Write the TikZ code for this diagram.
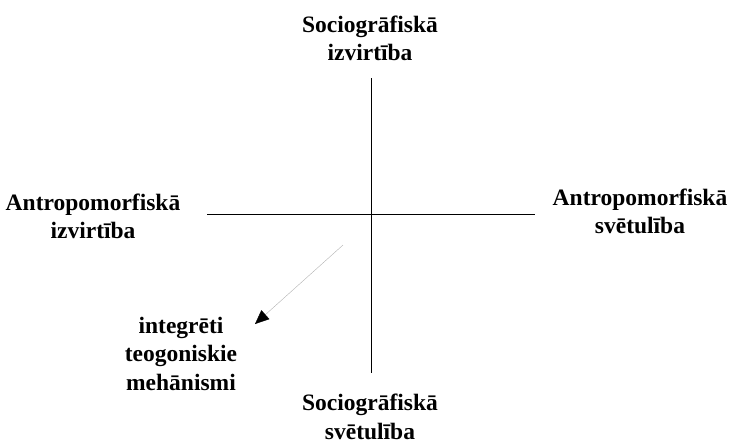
\documentclass[tikz,border=0pt]{standalone}
\usepackage{fontspec}
\setmainfont{Liberation Serif}
\usetikzlibrary{arrows.meta}

\tikzset{
	axislabel/.style={align=center, anchor=base, font=\bfseries\fontsize{23.5}{28.5}\selectfont, inner sep=0pt},
}

\begin{document}
\begin{tikzpicture}[x=1pt, y=-1pt]
		\useasboundingbox (0, 0) rectangle (729, 440);
		\coordinate (top) at (371, 78);
		\coordinate (bottom) at (371, 373);
		\coordinate (left) at (207, 214);
		\coordinate (right) at (535, 214);
		\coordinate (start) at (343, 245);
		\coordinate (tip) at (255, 324);
		\draw[thin] (top) -- (bottom);
		\draw[thin] (left) -- (right);
		\draw[gray!60, -{Triangle[black, length=14pt, width=12pt]}] (start) -- (tip);
		
		% base anchor = baseline of the last line
		\node[axislabel] (socizv) at (370, 60.5) {Sociogrāfiskā\\izvirtība};
		\node[axislabel] (socsvet) at (370, 439) {Sociogrāfiskā\\svētulība};
		\node[axislabel] (antizv) at (93, 238.5) {Antropomorfiskā\\izvirtība};
		\node[axislabel] (antsvet) at (640, 233.5) {Antropomorfiskā\\svētulība};
		\node[axislabel] (meh) at (181, 390) {integrēti\\teogoniskie\\mehānismi};
	\end{tikzpicture}
\end{document}
